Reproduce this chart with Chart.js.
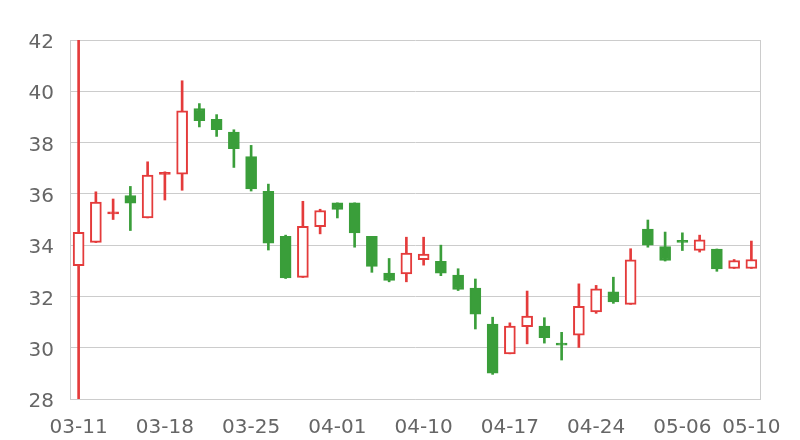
<!DOCTYPE html>
<html>
<head>
<meta charset="utf-8">
<title>Candlestick</title>
<script src="https://cdn.jsdelivr.net/npm/chart.js@4/dist/chart.umd.min.js"></script>
<style>
    html, body { margin: 0; padding: 0; background: #fff; }
    #wrap { width: 800px; height: 440px; position: relative; }
</style>
</head>
<body>
<div id="wrap"><canvas id="kChart"></canvas></div>
<script>
// Daily K-line data
const dates = ['03-11', '03-12', '03-13', '03-14', '03-15', '03-18', '03-19', '03-20', '03-21', '03-22',
    '03-25', '03-26', '03-27', '03-28', '03-29', '04-01', '04-02', '04-03', '04-08', '04-09',
    '04-10', '04-11', '04-12', '04-15', '04-16', '04-17', '04-18', '04-19', '04-22', '04-23',
    '04-24', '04-25', '04-26', '04-29', '04-30', '05-06', '05-07', '05-08', '05-09', '05-10'];
const opens = [33.2, 34.11, 35.22, 35.93, 35.06, 36.76, 36.77, 39.33, 38.91, 38.41,
    37.45, 36.10, 34.34, 32.74, 34.72, 35.65, 35.65, 34.34, 32.91, 32.88,
    33.43, 33.37, 32.83, 32.33, 30.92, 29.76, 30.82, 30.84, 30.12, 30.49,
    31.40, 32.18, 31.69, 34.63, 33.94, 34.13, 33.79, 33.85, 33.09, 33.09];
const closes = [34.5, 35.68, 35.26, 35.64, 36.73, 36.79, 39.24, 38.85, 38.50, 37.76,
    36.19, 34.08, 32.72, 34.73, 35.35, 35.39, 34.48, 33.17, 32.62, 33.69,
    33.65, 32.91, 32.27, 31.31, 29.01, 30.84, 31.23, 30.39, 30.10, 31.61,
    32.30, 31.79, 33.43, 34.00, 33.40, 34.11, 34.21, 33.07, 33.40, 33.44];
const lows = [28, 34.1, 35.0, 34.57, 35.06, 35.76, 36.14, 38.61, 38.24, 37.03,
    36.11, 33.81, 32.70, 32.74, 34.44, 35.06, 33.92, 32.94, 32.57, 32.57,
    33.22, 32.81, 32.23, 30.73, 28.96, 29.76, 30.15, 30.18, 29.52, 30.01,
    31.34, 31.73, 31.69, 33.92, 33.38, 33.79, 33.73, 32.98, 33.09, 33.09];
const highs = [42, 36.08, 35.8, 36.29, 37.25, 36.86, 40.41, 39.52, 39.09, 38.50,
    37.89, 36.38, 34.39, 35.71, 35.40, 35.65, 35.65, 34.34, 33.48, 34.31,
    34.31, 34.00, 33.08, 32.68, 31.19, 30.97, 32.21, 31.17, 30.60, 32.49,
    32.43, 32.75, 33.86, 34.98, 34.51, 34.48, 34.39, 33.85, 33.44, 34.16];
const yTicks = [28, 30, 32, 34, 36, 38, 40, 42];

const UP = '#e43b3b';
const DOWN = '#3a9e3a';

document.addEventListener('DOMContentLoaded', function() {
    drawChart();
});

function isUp(i) {
    return closes[i] >= opens[i];
}

function drawChart() {
    const bodies = dates.map((d, i) => [opens[i], closes[i]]);
    const wicks = dates.map((d, i) => [lows[i], highs[i]]);

    const ctx = document.getElementById('kChart').getContext('2d');
    new Chart(ctx, {
        type: 'bar',
        data: {
            labels: dates,
            datasets: [{
                // candle body
                data: bodies,
                order: 0,
                grouped: false,
                barThickness: 11,
                minBarLength: 2,
                borderWidth: 2,
                borderSkipped: false,
                borderColor: c => isUp(c.dataIndex) ? UP : DOWN,
                backgroundColor: c => {
                    const i = c.dataIndex;
                    if (!isUp(i)) return DOWN;
                    // nearly flat bodies show as a solid dash
                    return Math.abs(closes[i] - opens[i]) < 0.1 ? UP : '#ffffff';
                }
            }, {
                // high-low wick
                data: wicks,
                order: 1,
                grouped: false,
                barThickness: 2,
                borderWidth: 0,
                backgroundColor: c => isUp(c.dataIndex) ? UP : DOWN
            }]
        },
        options: {
            responsive: true,
            maintainAspectRatio: false,
            animation: false,
            layout: { padding: { left: 0, right: 40, top: 40, bottom: 0 } },
            plugins: {
                legend: { display: false },
                tooltip: { enabled: false }
            },
            scales: {
                x: {
                    type: 'category',
                    grid: { display: false },
                    border: { display: true, color: '#cccccc' },
                    ticks: {
                        autoSkip: false,
                        maxRotation: 0,
                        minRotation: 0,
                        padding: 9,
                        color: '#666666',
                        font: { family: 'DejaVu Sans', size: 20 },
                        callback: function(v, i) {
                            return (i % 5 === 0 || i === dates.length - 1) ? dates[i] : '';
                        }
                    },
                    afterFit: function(scale) { scale.height = 41; }
                },
                y: {
                    min: yTicks[0],
                    max: yTicks[yTicks.length - 1],
                    afterBuildTicks: function(scale) {
                        scale.ticks = yTicks.map(v => ({ value: v }));
                    },
                    grid: { color: '#cccccc', drawTicks: false },
                    border: { display: true, color: '#cccccc' },
                    ticks: {
                        padding: 16,
                        labelOffset: 3,
                        color: '#666666',
                        font: { family: 'DejaVu Sans', size: 20 }
                    },
                    afterFit: function(scale) { scale.width = 70; }
                },
                yRight: {
                    position: 'right',
                    min: yTicks[0],
                    max: yTicks[yTicks.length - 1],
                    grid: { display: false },
                    border: { display: true, color: '#cccccc' },
                    ticks: { display: false },
                    afterFit: function(scale) { scale.width = 0; }
                }
            }
        }
    });
}
</script>
</body>
</html>
